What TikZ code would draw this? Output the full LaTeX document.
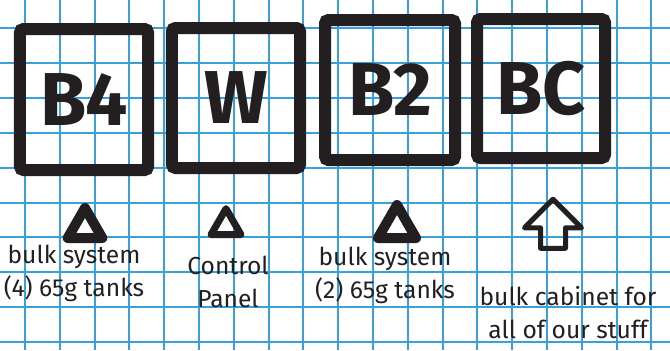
\documentclass[tikz,border=0pt]{standalone}
\usepackage{fontspec}
\setmainfont{Fira Sans}
\usetikzlibrary{shapes.geometric, shapes.arrows}
\definecolor{gridblue}{RGB}{58,160,219}
\definecolor{ink}{RGB}{35,31,32}

\begin{document}
\begin{tikzpicture}[x=0.03cm, y=-0.03cm,
  bin/.style={draw=ink, line width=0.36cm, rounded corners=3pt, inner sep=0pt,
              text=ink, font=\fontsize{64}{64}\selectfont\bfseries},
  marker/.style={regular polygon, regular polygon sides=3, draw=ink,
                 line width=0.3cm, line join=round, inner sep=0pt},
  caption/.style={font=\fontsize{21}{28}\selectfont, text=ink, align=center}
]
  \useasboundingbox (0,0) rectangle (670,350);

  % Graph paper
  \fill[white] (0,0) rectangle (670,350);
  \foreach \k in {0,...,18}
    \draw[gridblue, line width=0.06cm] ({25+34.8*\k},0) -- ({25+34.8*\k},350);
  \foreach \k in {0,...,9}
    \draw[gridblue, line width=0.06cm] (0,{28+34.9*\k}) -- (670,{28+34.9*\k});

  % Bins
  \node[bin, minimum width=3.84cm, minimum height=4.23cm] (b4box) at (84,99.5) {B4};
  \node[bin, minimum width=3.84cm, minimum height=4.2cm] (wbox) at (236,98) {W};
  \node[bin, minimum width=3.9cm, minimum height=4.2cm] (b2box) at (390,90) {B2};
  \node[bin, minimum width=3.84cm, minimum height=4.17cm] (bcbox) at (541,88.5) {BC};

  % Markers under the bins
  \node[marker, minimum size=1.2cm] (b4mark) at (85,228) {};
  \node[marker, minimum size=1.04cm, line width=0.21cm] (wmark) at (226,226) {};
  \node[marker, minimum size=1.32cm] (b2mark) at (397,227) {};
  \node[single arrow, shape border rotate=90, draw=ink, line width=0.15cm,
        line join=round, inner sep=0.3cm, minimum height=1.47cm,
        minimum width=1.56cm, single arrow head extend=0.48cm] (bcmark) at (553,230) {};

  % Captions
  \node[caption] (b4note) at (74,273) {bulk system\\(4) 65g tanks};
  \node[caption] (wnote) at (228,282) {Control\\Panel};
  \node[caption] (b2note) at (385,275) {bulk system\\(2) 65g tanks};
  \node[caption] (bcnote) at (568,312.5) {bulk cabinet for\\all of our stuff};
\end{tikzpicture}
\end{document}
